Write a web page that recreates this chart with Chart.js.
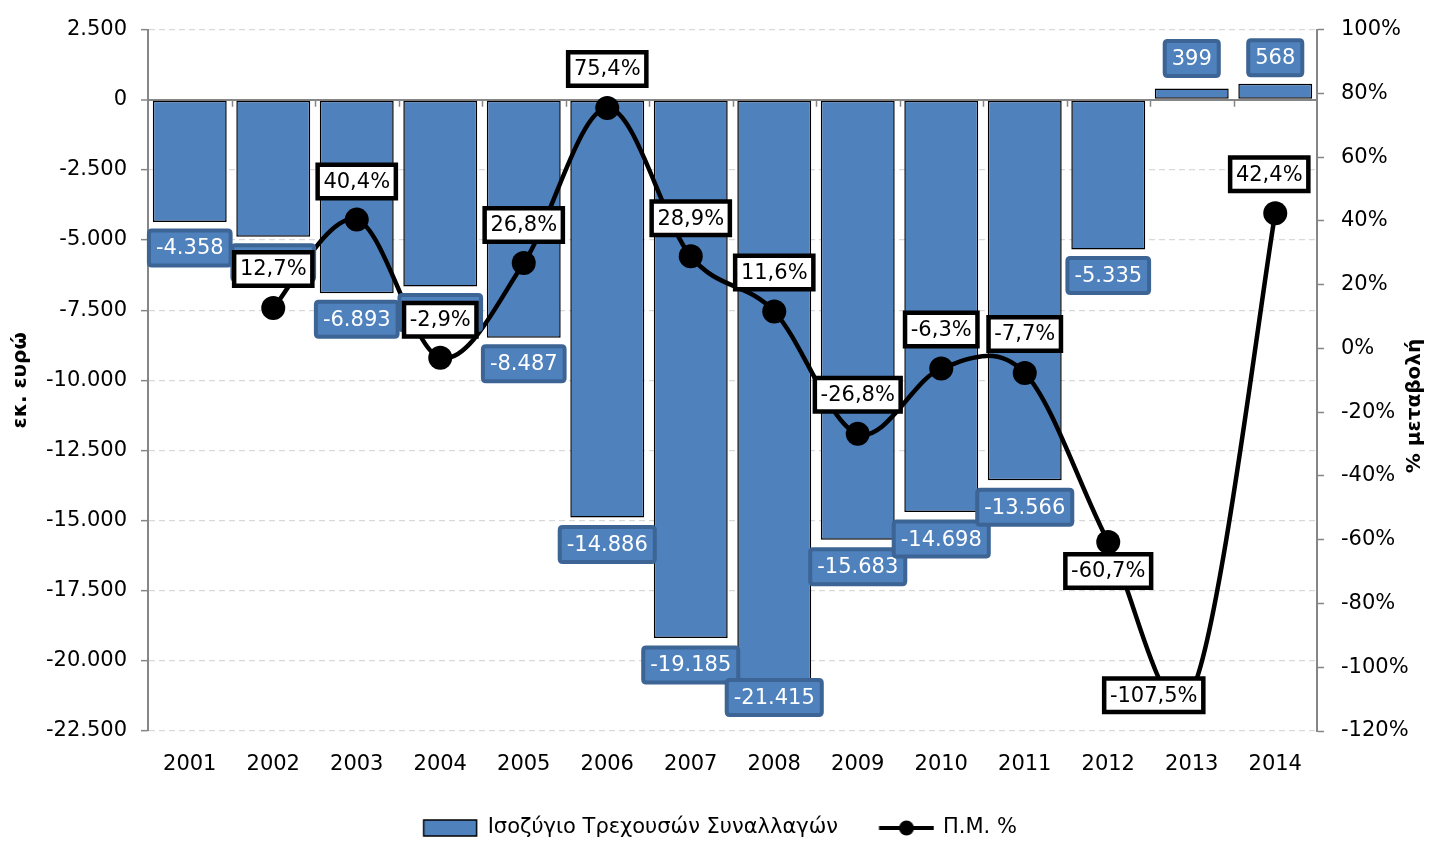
<!DOCTYPE html>
<html lang="el">
<head>
<meta charset="UTF-8">
<title>Ισοζύγιο Τρεχουσών Συναλλαγών</title>
<script src="https://cdn.jsdelivr.net/npm/chart.js"></script>
<style>
  html, body { margin: 0; padding: 0; background: #fff; }
  #wrap { width: 1438px; height: 841px; }
</style>
</head>
<body>
<div id="wrap"><canvas id="caChart"></canvas></div>
<script>
  // current account balance (million euro) and yearly % change
  const years = ['2001', '2002', '2003', '2004', '2005', '2006', '2007',
                 '2008', '2009', '2010', '2011', '2012', '2013', '2014'];
  const balance = [-4358, -4885, -6893, -6660, -8487, -14886, -19185,
                   -21415, -15683, -14698, -13566, -5335, 399, 568];
  const change = [null, 12.7, 40.4, -2.9, 26.8, 75.4, 28.9,
                  11.6, -26.8, -6.3, -7.7, -60.7, -107.5, 42.4];

  const eurMin = -22500, eurMax = 2500, eurStep = 2500;
  const pctMin = -120, pctMax = 100, pctStep = 20;

  // where each value tag sits relative to its mark (px)
  const barTagShift = [26, 26, 26, 26, 26, 27, 27, -3, 27, 27, 27, 26, -30, -26];
  const lineTagShift = [[0, 0], [0, -39], [0, -38], [0, -38], [0, -38], [0, -39], [0, -38],
                        [0, -39], [0, -39], [0, -39], [0, -39], [0, 29], [-38, 4], [-6, -39]];

  const BLUE = '#4F81BD';
  const FONT = '"DejaVu Sans", Verdana, sans-serif';

  Chart.defaults.font.family = FONT;
  Chart.defaults.color = '#000';

  function fmtEur(v) {
    const s = Math.abs(v).toString().replace(/\B(?=(\d{3})+(?!\d))/g, '.');
    return (v < 0 ? '-' : '') + s;
  }
  function fmtPct(v) {
    return v.toFixed(1).replace('.', ',') + '%';
  }

  function roundRect(ctx, x, y, w, h, r) {
    ctx.beginPath();
    ctx.moveTo(x + r, y);
    ctx.lineTo(x + w - r, y);
    ctx.quadraticCurveTo(x + w, y, x + w, y + r);
    ctx.lineTo(x + w, y + h - r);
    ctx.quadraticCurveTo(x + w, y + h, x + w - r, y + h);
    ctx.lineTo(x + r, y + h);
    ctx.quadraticCurveTo(x, y + h, x, y + h - r);
    ctx.lineTo(x, y + r);
    ctx.quadraticCurveTo(x, y, x + r, y);
    ctx.closePath();
  }

  function drawTag(ctx, cx, cy, text, o) {
    const w = ctx.measureText(text).width + o.padX * 2;
    const h = o.h;
    const x = cx - w / 2, y = cy - h / 2;
    roundRect(ctx, x + o.lw / 2, y + o.lw / 2, w - o.lw, h - o.lw, o.r);
    ctx.fillStyle = o.fill;
    ctx.fill();
    ctx.lineWidth = o.lw;
    ctx.strokeStyle = o.stroke;
    ctx.stroke();
    ctx.fillStyle = o.color;
    ctx.fillText(text, cx, cy + 1);
  }

  const barTag = { padX: 9, h: 39, lw: 4, r: 3, fill: BLUE, stroke: '#3C6494', color: '#fff' };
  const lineTag = { padX: 8, h: 38, lw: 4.5, r: 0, fill: '#fff', stroke: '#000', color: '#000' };

  // smoothed line: control points at P ± (next - prev) / 6
  const smoothLine = {
    id: 'smoothLine',
    beforeDatasetDraw(chart, args) {
      if (args.index !== 1) return;
      const line = args.meta.dataset;
      line.updateControlPoints(chart.chartArea, 'x');
      const pts = line.points.filter(p => !p.skip);
      pts.forEach((p, i) => {
        const prev = pts[i - 1] || p, next = pts[i + 1] || p;
        const tx = (next.x - prev.x) / 6, ty = (next.y - prev.y) / 6;
        p.cp1x = p.x - tx; p.cp1y = p.y - ty;
        p.cp2x = p.x + tx; p.cp2y = p.y + ty;
      });
    }
  };

  const valueTags = {
    id: 'valueTags',
    afterDatasetsDraw(chart) {
      const ctx = chart.ctx;
      const xs = chart.scales.x, ys = chart.scales.y;
      ctx.save();

      // small category ticks along the zero line
      const zeroY = ys.getPixelForValue(0);
      const step = xs.width / years.length;
      ctx.strokeStyle = '#868686';
      ctx.lineWidth = 1.5;
      for (let k = 1; k < years.length; k++) {
        const x = Math.round(xs.left + k * step) + 0.5;
        ctx.beginPath();
        ctx.moveTo(x, zeroY);
        ctx.lineTo(x, zeroY + 7);
        ctx.stroke();
      }

      ctx.font = '21px ' + FONT;
      ctx.textAlign = 'center';
      ctx.textBaseline = 'middle';

      chart.getDatasetMeta(0).data.forEach((el, i) => {
        drawTag(ctx, el.x, el.y + barTagShift[i], fmtEur(balance[i]), barTag);
      });
      chart.getDatasetMeta(1).data.forEach((el, i) => {
        if (change[i] === null) return;
        const [dx, dy] = lineTagShift[i];
        drawTag(ctx, el.x + dx, el.y + dy, fmtPct(change[i]), lineTag);
      });
      ctx.restore();
    },
    afterDraw(chart) {
      // right axis title, reading bottom to top
      const ctx = chart.ctx;
      ctx.save();
      ctx.translate(1415, 406);
      ctx.rotate(-Math.PI / 2);
      ctx.font = 'bold 20px ' + FONT;
      ctx.fillStyle = '#000';
      ctx.textAlign = 'center';
      ctx.textBaseline = 'middle';
      ctx.fillText('% μεταβολή', 0, 0);
      ctx.restore();
    }
  };

  // legend swatches
  function barSwatch() {
    const c = document.createElement('canvas');
    c.width = 58; c.height = 20;
    const g = c.getContext('2d');
    g.fillStyle = BLUE;
    g.fillRect(3.5, 2, 53, 16);
    g.strokeStyle = '#000';
    g.lineWidth = 1.5;
    g.strokeRect(3.5, 2, 53, 16);
    return c;
  }
  function lineSwatch() {
    const c = document.createElement('canvas');
    c.width = 60; c.height = 20;
    const g = c.getContext('2d');
    g.strokeStyle = '#000';
    g.lineWidth = 4;
    g.beginPath();
    g.moveTo(4.5, 10);
    g.lineTo(59.5, 10);
    g.stroke();
    g.fillStyle = '#000';
    g.beginPath();
    g.arc(32, 10, 7.5, 0, Math.PI * 2);
    g.fill();
    return c;
  }

  new Chart(document.getElementById('caChart'), {
    type: 'bar',
    data: {
      labels: years,
      datasets: [
        {
          label: 'Ισοζύγιο Τρεχουσών Συναλλαγών',
          data: balance,
          backgroundColor: BLUE,
          borderColor: '#000',
          borderWidth: 1.5,
          borderSkipped: false,
          barPercentage: 0.885,
          categoryPercentage: 1,
          yAxisID: 'y',
          order: 2
        },
        {
          label: 'Π.Μ. %',
          type: 'line',
          data: change,
          borderColor: '#000',
          borderWidth: 4.5,
          tension: 0.4,
          pointRadius: 12,
          pointBackgroundColor: '#000',
          pointBorderWidth: 0,
          fill: false,
          clip: false,
          yAxisID: 'y1',
          order: 1
        }
      ]
    },
    options: {
      responsive: true,
      maintainAspectRatio: false,
      animation: false,
      layout: { padding: { top: 27, left: 0, right: 0, bottom: -7.5 } },
      plugins: {
        tooltip: { enabled: false },
        legend: {
          position: 'bottom',
          labels: {
            usePointStyle: true,
            pointStyleWidth: 56,
            padding: 38.5,
            color: '#000',
            font: { size: 21 },
            generateLabels: () => [
              { text: 'Ισοζύγιο Τρεχουσών Συναλλαγών', pointStyle: barSwatch(), datasetIndex: 0, lineWidth: 0 },
              { text: 'Π.Μ. %', pointStyle: lineSwatch(), datasetIndex: 1, lineWidth: 0 }
            ]
          }
        }
      },
      scales: {
        x: {
          offset: true,
          grid: { display: false },
          border: { display: false },
          ticks: { color: '#000', font: { size: 21 }, padding: 13 },
          afterFit(s) { s.height = 48; }
        },
        y: {
          position: 'left',
          min: eurMin,
          max: eurMax,
          ticks: { stepSize: eurStep, color: '#000', font: { size: 21 }, padding: 14, callback: v => fmtEur(v) },
          grid: {
            color: c => c.tick && c.tick.value === 0 ? '#868686' : '#D9D9D9',
            lineWidth: c => c.tick && c.tick.value === 0 ? 2 : 1.3,
            tickColor: '#868686',
            tickWidth: 1.5,
            tickLength: 7
          },
          border: {
            color: '#868686',
            width: 2,
            dash: c => (c.tick && c.tick.value === 0) ? [] : [6, 4]
          },
          title: {
            display: true,
            text: 'εκ. ευρώ',
            color: '#000',
            font: { size: 20, weight: 'bold' },
            padding: { top: 9, bottom: 0 }
          },
          afterFit(s) { s.width = 148; }
        },
        y1: {
          position: 'right',
          min: pctMin,
          max: pctMax,
          ticks: { stepSize: pctStep, color: '#000', font: { size: 21 }, padding: 17, callback: v => v + '%' },
          grid: {
            drawOnChartArea: false,
            tickColor: '#868686',
            tickWidth: 1.5,
            tickLength: 7
          },
          border: { color: '#868686', width: 2 },
          afterFit(s) { s.width = 121; }
        }
      }
    },
    plugins: [smoothLine, valueTags]
  });
</script>
</body>
</html>
